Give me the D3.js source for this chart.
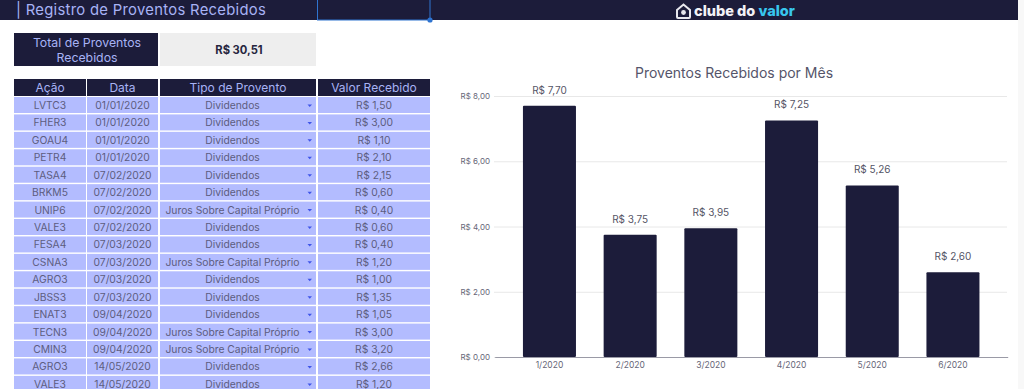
<!DOCTYPE html>
<html>
<head>
<meta charset="utf-8">
<script src="https://cdn.jsdelivr.net/npm/d3@7"></script>
<style>
  html, body { margin: 0; padding: 0; background: #fff; overflow: hidden; }
  svg { display: block; }
  text { font-family: Inter, "Open Sans", sans-serif; }
</style>
</head>
<body>
<svg id="sheet" width="1024" height="389"></svg>
<script>
// dados da tabela
const acoes = ['LVTC3','FHER3','GOAU4','PETR4','TASA4','BRKM5','UNIP6','VALE3','FESA4','CSNA3','AGRO3','JBSS3','ENAT3','TECN3','CMIN3','AGRO3','VALE3'];
const datas = ['01/01/2020','01/01/2020','01/01/2020','01/01/2020','07/02/2020','07/02/2020','07/02/2020','07/02/2020','07/03/2020','07/03/2020','07/03/2020','07/03/2020','09/04/2020','09/04/2020','09/04/2020','14/05/2020','14/05/2020'];
const tipos = ['Dividendos','Dividendos','Dividendos','Dividendos','Dividendos','Dividendos','Juros Sobre Capital Próprio','Dividendos','Dividendos','Juros Sobre Capital Próprio','Dividendos','Dividendos','Dividendos','Juros Sobre Capital Próprio','Juros Sobre Capital Próprio','Dividendos','Dividendos'];
const valores = ['R$ 1,50','R$ 3,00','R$ 1,10','R$ 2,10','R$ 2,15','R$ 0,60','R$ 0,40','R$ 0,60','R$ 0,40','R$ 1,20','R$ 1,00','R$ 1,35','R$ 1,05','R$ 3,00','R$ 3,20','R$ 2,66','R$ 1,20'];
const colunas = ['Ação','Data','Tipo de Provento','Valor Recebido'];

// dados do grafico
const meses = ['1/2020','2/2020','3/2020','4/2020','5/2020','6/2020'];
const totais = [7.70, 3.75, 3.95, 7.25, 5.26, 2.60];
const ticks = [0, 2, 4, 6, 8];

const dark = '#1c1c3a', lilas = '#b3bcff', textoCel = '#5d5d80', textoHead = '#a8b3f5';
const svg = d3.select('#sheet');
const brl = v => 'R$ ' + v.toFixed(2).replace('.', ',');

// faixa do topo
svg.append('rect').attr('x', 0).attr('y', 0).attr('width', 1018).attr('height', 20).attr('fill', dark);
svg.append('rect').attr('x', 1018).attr('y', 0).attr('width', 6).attr('height', 389).attr('fill', '#f8f8f8');
svg.append('text').attr('x', 16).attr('y', 15).attr('font-size', 14.8).attr('letter-spacing', 0.3)
   .attr('fill', textoHead).text('| Registro de Proventos Recebidos');

// celula selecionada
svg.append('rect').attr('x', 317.5).attr('y', -2).attr('width', 112.5).attr('height', 22)
   .attr('fill', 'none').attr('stroke', '#2f74d0').attr('stroke-width', 1);
svg.append('circle').attr('cx', 430).attr('cy', 20).attr('r', 2.6).attr('fill', '#2f74d0');

// logo
const logo = svg.append('g').attr('transform', 'translate(676,4)');
logo.append('path').attr('d', 'M1 6 L7.5 0.5 L14 6 L14 13 Q14 14 13 14 L2 14 Q1 14 1 13 Z')
    .attr('fill', 'none').attr('stroke', '#e8e8ee').attr('stroke-width', 2);
logo.append('circle').attr('cx', 7.5).attr('cy', 8.5).attr('r', 2.4).attr('fill', '#e8e8ee');
const logoTxt = svg.append('text').attr('x', 694).attr('y', 16).attr('font-size', 14.5).attr('font-weight', 800).attr('fill', '#f2f2f6');
logoTxt.append('tspan').text('clube do ');
logoTxt.append('tspan').attr('fill', '#38c6ee').text('valor');

// total
svg.append('rect').attr('x', 14).attr('y', 33).attr('width', 144).attr('height', 33).attr('fill', dark);
svg.append('rect').attr('x', 160).attr('y', 33).attr('width', 156).attr('height', 33).attr('fill', '#eeeeee');
svg.selectAll('.totalLbl').data(['Total de Proventos', 'Recebidos']).enter().append('text')
   .attr('class', 'totalLbl').attr('x', 87).attr('y', (d, i) => 47 + i * 14.5)
   .attr('text-anchor', 'middle').attr('font-size', 12.3).attr('fill', textoHead).text(d => d);
svg.append('text').attr('x', 239).attr('y', 53.5).attr('text-anchor', 'middle')
   .attr('font-size', 11.2).attr('font-weight', 700).attr('fill', '#26263f').text(brl(30.51));

// tabela
const colX = [14, 87, 160, 318], colW = [72, 71, 156, 112];
const rowY = d3.scaleLinear().domain([0, 1]).range([97, 114.43]);

svg.selectAll('.head').data(colunas).enter().append('g').attr('class', 'head')
   .each(function(d, i) {
     const g = d3.select(this);
     g.append('rect').attr('x', colX[i]).attr('y', 79).attr('width', colW[i]).attr('height', 17).attr('fill', dark);
     g.append('text').attr('x', colX[i] + colW[i] / 2).attr('y', 92).attr('text-anchor', 'middle')
      .attr('font-size', 12).attr('fill', textoHead).text(d);
   });

const linhas = acoes.map((a, i) => [a, datas[i], tipos[i], valores[i]]);
const rows = svg.selectAll('.linha').data(linhas).enter().append('g').attr('class', 'linha')
                .attr('transform', (d, i) => `translate(0,${rowY(i)})`);
rows.selectAll('rect').data(d => d).enter().append('rect')
    .attr('x', (d, i) => colX[i]).attr('y', 0)
    .attr('width', (d, i) => colW[i]).attr('height', 16)
    .attr('fill', lilas);
rows.selectAll('text').data(d => d).enter().append('text')
    .attr('x', (d, i) => i === 2 ? 232.5 : colX[i] + colW[i] / 2).attr('y', 12)
    .attr('text-anchor', 'middle').attr('font-size', 10.3).attr('fill', textoCel)
    .text(d => d);
// setinha do dropdown
rows.append('path').attr('d', 'M307.5 7.5 L312 7.5 L309.75 10 Z').attr('fill', '#3f55e8');

// grafico
const x = d3.scaleBand().domain(meses).range([494.7, 1007.7]).paddingInner(0.343).paddingOuter(0.35);
const y = d3.scaleLinear().domain([0, 8]).range([357, 96]);

svg.append('text').attr('x', 734).attr('y', 78).attr('text-anchor', 'middle')
   .attr('font-size', 14).attr('fill', '#55556a').text('Proventos Recebidos por Mês');

const yAxis = svg.append('g').attr('transform', 'translate(494,0)')
   .call(d3.axisLeft(y).tickValues(ticks).tickFormat(brl).tickSize(-513).tickPadding(4));
yAxis.select('.domain').remove();
yAxis.selectAll('line').attr('stroke', '#e8e8e8');
yAxis.selectAll('text').attr('font-size', 8).attr('fill', '#666677').attr('font-family', 'Inter');

svg.selectAll('.bar').data(totais).enter().append('rect').attr('class', 'bar')
   .attr('x', (d, i) => x(meses[i])).attr('y', d => y(d))
   .attr('width', x.bandwidth()).attr('height', d => y(0) - y(d))
   .attr('rx', 1).attr('fill', dark);

svg.selectAll('.rotulo').data(totais).enter().append('text').attr('class', 'rotulo')
   .attr('x', (d, i) => x(meses[i]) + x.bandwidth() / 2).attr('y', d => y(d) - 12)
   .attr('text-anchor', 'middle').attr('font-size', 10).attr('fill', '#555566').text(brl);

const xAxis = svg.append('g').attr('transform', 'translate(0,357)')
   .call(d3.axisBottom(x).tickSize(0).tickPadding(5));
xAxis.select('.domain').attr('stroke', '#9a9aa6').attr('stroke-width', 1);
xAxis.selectAll('text').attr('font-size', 8.5).attr('fill', '#666677').attr('font-family', 'Inter');
</script>
</body>
</html>
